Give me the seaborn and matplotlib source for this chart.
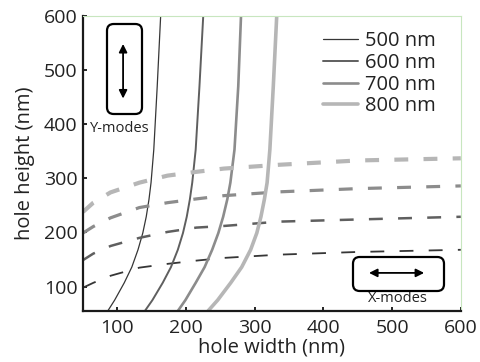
import matplotlib
matplotlib.use("Agg")
import matplotlib.pyplot as plt
from matplotlib.patches import FancyBboxPatch
import pandas as pd
import seaborn as sns

# Wavelengths and line styles per wavelength
wavelengths = ["500 nm", "600 nm", "700 nm", "800 nm"]
colors = ["#363636", "#5f5f5f", "#8c8c8c", "#b6b6b6"]
widths = [0.9, 1.4, 1.9, 2.6]

# Y-modes (solid): hole width as a function of hole height
y_heights = [55, 75, 107, 136, 168, 199, 229, 261, 292, 353, 470, 600]
y_width_500 = [86, 96, 110, 121, 130, 137, 142, 146, 149, 153, 158, 163]
y_width_600 = [140, 151, 166, 178, 188, 195.5, 201, 205.5, 209, 214, 219.5, 225]
y_width_700 = [188, 199, 214, 227, 238, 247, 254, 260, 264.5, 270.5, 276, 280]
y_width_800 = [232, 246, 265, 281, 294, 303, 309, 314, 318, 322, 327, 332]

# X-modes (dashed): hole height as a function of hole width
x_widths = [50, 65, 90, 132, 173, 215, 255, 335, 450, 600]
x_height_500 = [98, 107, 120, 135, 142, 148, 153, 159, 164, 168]
x_height_600 = [149, 161, 175, 190, 201, 209, 212, 220, 224, 229]
x_height_700 = [199, 211, 227, 246, 255, 262, 268, 275, 281, 286]
x_height_800 = [238, 255, 274, 292, 305, 312, 318, 325, 333, 337]

x_ticks = [100, 200, 300, 400, 500, 600]
y_ticks = [100, 200, 300, 400, 500, 600]

sns.set_style("ticks")
plt.rcParams["font.family"] = ["Open Sans", "DejaVu Sans"]
plt.rcParams["lines.scale_dashes"] = False

fig = plt.figure(figsize=(4.8, 3.62), dpi=100)
ax = fig.add_axes([0.173, 0.141, 0.787, 0.815])

y_sets = [y_width_500, y_width_600, y_width_700, y_width_800]
x_sets = [x_height_500, x_height_600, x_height_700, x_height_800]

for lab, c, lw, wy, hx in zip(wavelengths, colors, widths, y_sets, x_sets):
    dy = pd.DataFrame({"width": wy, "height": y_heights})
    sns.lineplot(data=dy, x="width", y="height", sort=False, estimator=None,
                 color=c, lw=lw, ax=ax, label=lab)
    dx = pd.DataFrame({"width": x_widths, "height": hx})
    sns.lineplot(data=dx, x="width", y="height", sort=False, estimator=None,
                 color=c, lw=lw + 0.4, ax=ax, legend=False)
    ax.lines[-1].set_dashes((10, 11))

ax.set_xlim(50, 600)
ax.set_ylim(55, 600)
ax.set_xticks(x_ticks)
ax.set_yticks(y_ticks)
ax.tick_params(direction="in", length=3, width=1.2, labelsize=14, colors="black",
               labelcolor="#222222")
ax.tick_params(axis="x", pad=6)
ax.tick_params(axis="y", pad=4)
ax.set_xlabel("hole width (nm)", fontsize=14.5, labelpad=0, color="#222222")
ax.set_ylabel("hole height (nm)", fontsize=14.5, labelpad=6, color="#222222")

for side in ("left", "bottom"):
    ax.spines[side].set_linewidth(1.6)
    ax.spines[side].set_color("#1a1a1a")
for side in ("top", "right"):
    ax.spines[side].set_visible(True)
    ax.spines[side].set_linewidth(0.8)
    ax.spines[side].set_color("#c8e6bf")

leg = ax.legend(loc="upper right", bbox_to_anchor=(0.955, 0.975), frameon=False,
                fontsize=14.5, handlelength=1.75, handletextpad=0.35,
                labelspacing=0.08, borderaxespad=0)
for t in leg.get_texts():
    t.set_color("#222222")

# Polarisation icons
asp = 480 / 362
fig.patches.append(FancyBboxPatch((107 / 480, 1 - 114 / 362), 35 / 480, 90 / 362,
                                  boxstyle="round,pad=0,rounding_size=0.014",
                                  mutation_aspect=asp, transform=fig.transFigure,
                                  fill=False, ec="black", lw=1.6))
fig.patches.append(FancyBboxPatch((353 / 480, 1 - 291 / 362), 91 / 480, 34 / 362,
                                  boxstyle="round,pad=0,rounding_size=0.014",
                                  mutation_aspect=asp, transform=fig.transFigure,
                                  fill=False, ec="black", lw=1.6))
ax.annotate("", xy=(0.106, 0.905), xytext=(0.106, 0.72), xycoords="axes fraction",
            arrowprops=dict(arrowstyle="<|-|>", color="black", lw=1.3,
                            mutation_scale=12, shrinkA=0, shrinkB=0))
ax.annotate("", xy=(0.757, 0.129), xytext=(0.903, 0.129), xycoords="axes fraction",
            arrowprops=dict(arrowstyle="<|-|>", color="black", lw=1.3,
                            mutation_scale=12, shrinkA=0, shrinkB=0))
ax.text(0.098, 0.62, "Y-modes", transform=ax.transAxes, ha="center", va="center",
        fontsize=10.5, color="#222222")
ax.text(0.833, 0.041, "X-modes", transform=ax.transAxes, ha="center", va="center",
        fontsize=10.5, color="#222222")

fig.savefig("out.png", dpi=100)
